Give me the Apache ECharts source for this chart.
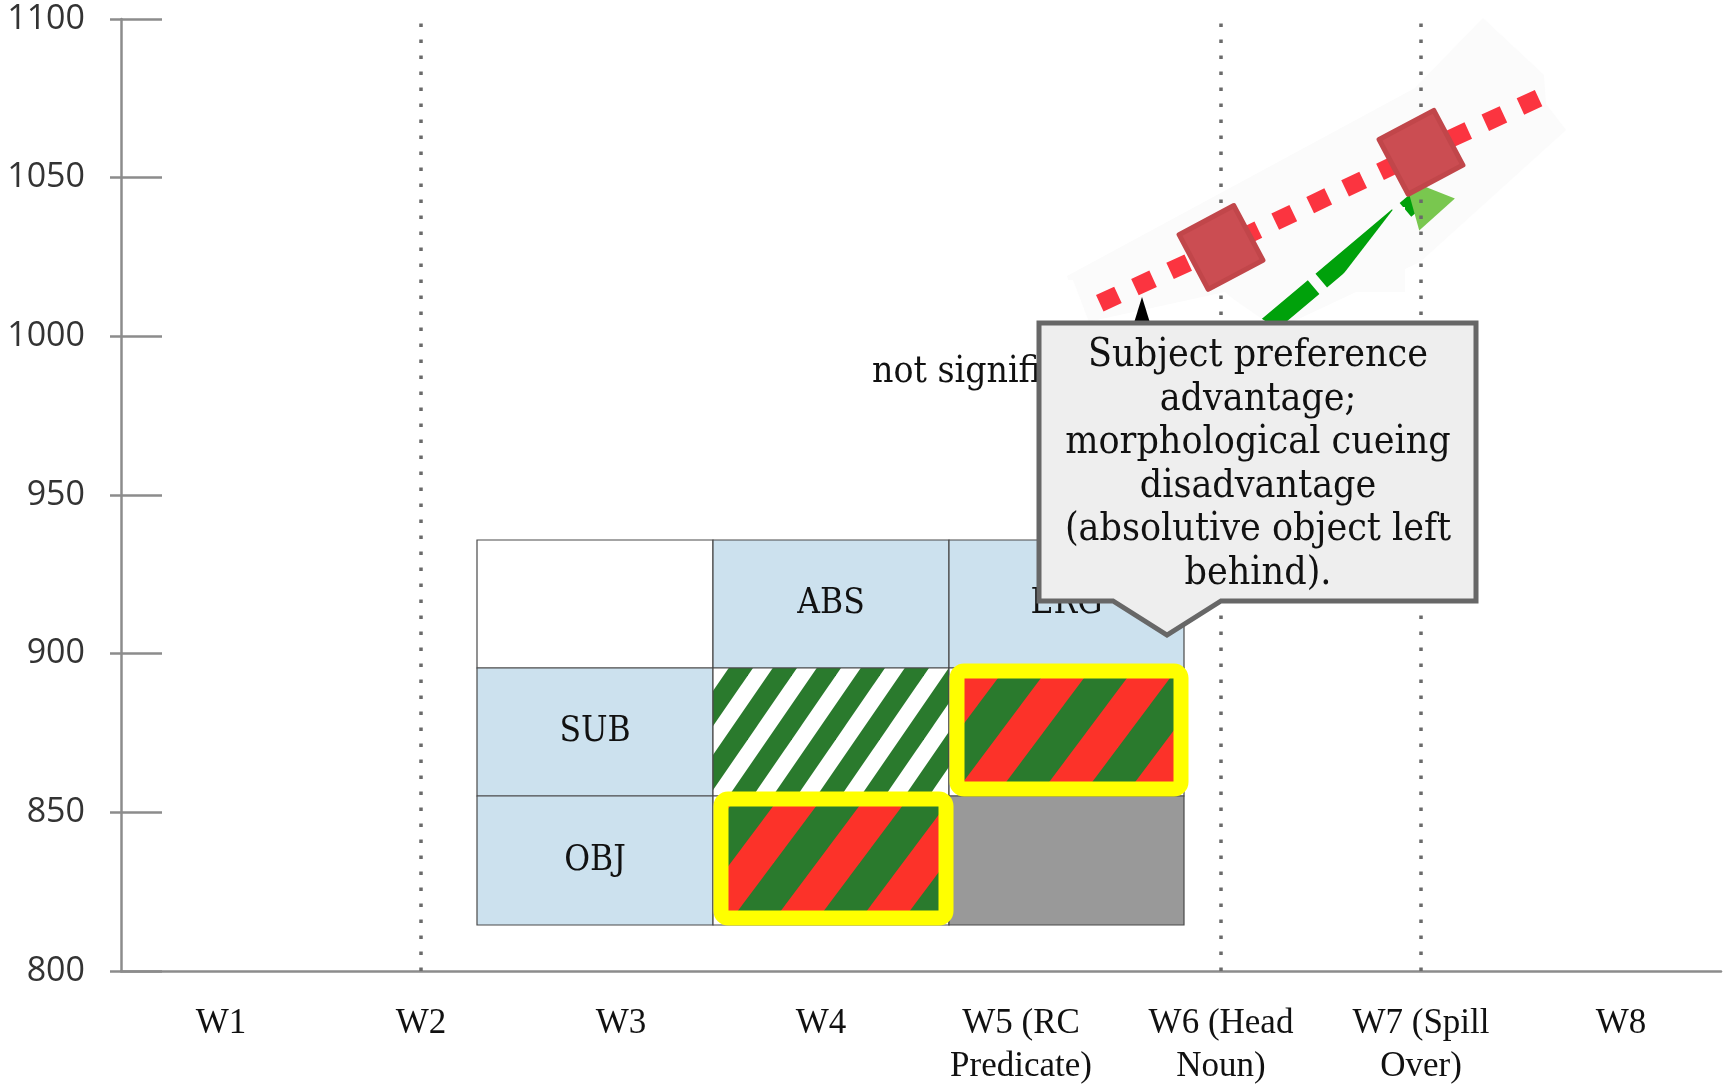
<!DOCTYPE html>
<html>
<head>
<meta charset="utf-8">
<script src="https://cdn.jsdelivr.net/npm/echarts@6/dist/echarts.min.js"></script>
<style>
  html, body { margin: 0; padding: 0; background: #ffffff; }
  #chart { width: 1730px; height: 1084px; }
</style>
</head>
<body>
<div id="chart"></div>
<script>
// ---- data ----
const categories = ['W1', 'W2', 'W3', 'W4', 'W5 (RC\nPredicate)', 'W6 (Head\nNoun)', 'W7 (Spill\nOver)', 'W8'];
const redValues = [null, null, null, null, 999, 1028, 1058, 1087];
const greenValues = [null, null, null, null, null, 991, 1044, null];
const regionMarks = ['W2', 'W6 (Head\nNoun)', 'W7 (Spill\nOver)'];
const yMin = 800, yMax = 1100, yStep = 50;
const tableHeader = ['', 'ABS', 'ERG'];
const tableRowLabels = ['SUB', 'OBJ'];
const calloutLines = ['Subject preference', 'advantage;', 'morphological cueing', 'disadvantage', '(absolutive object left', 'behind).'];
const noteText = 'not significant';

// ---- layout ----
const GRID = { left: 121, right: 9, top: 19, bottom: 113, outerBoundsMode: 'none', containLabel: false };
const TABLE_X = [477, 713, 949, 1184];
const TABLE_Y = [540, 668, 796, 925];
const SERIF = '"DejaVu Serif Condensed", "DejaVu Serif", serif';

// diagonal stripe tile used as a repeating fill
function stripeTile(c1, c2, period, height, ratio) {
  const cv = document.createElement('canvas');
  cv.width = period; cv.height = height;
  const ctx = cv.getContext('2d');
  ctx.fillStyle = c2; ctx.fillRect(0, 0, period, height);
  ctx.fillStyle = c1;
  for (let k = -1; k <= 2; k++) {
    const a = k * period, b = a + ratio * period;
    ctx.beginPath();
    ctx.moveTo(a, 0); ctx.lineTo(b, 0);
    ctx.lineTo(b - period, height); ctx.lineTo(a - period, height);
    ctx.closePath(); ctx.fill();
  }
  return { image: cv, repeat: 'repeat' };
}
const redGreen = stripeTile('#fc3229', '#2a7a2d', 86, 115, 0.5);
const greenWhite = stripeTile('#2a7a2d', '#ffffff', 44, 64, 0.55);

// ---- table overlay ----
const cellKinds = [
  ['blank', 'head', 'head'],
  ['head', 'greenWhite', 'boxed'],
  ['head', 'boxed', 'grey']
];
const tableEls = [];
for (let r = 0; r < 3; r++) {
  for (let c = 0; c < 3; c++) {
    const x0 = TABLE_X[c], x1 = TABLE_X[c + 1], y0 = TABLE_Y[r], y1 = TABLE_Y[r + 1];
    const kind = cellKinds[r][c];
    let fill = '#ffffff';
    if (kind === 'head') fill = '#cce1ee';
    if (kind === 'greenWhite') fill = greenWhite;
    if (kind === 'grey') fill = '#999999';
    tableEls.push({
      type: 'rect', z: 3, silent: true,
      shape: { x: x0, y: y0, width: x1 - x0, height: y1 - y0 },
      style: { fill: fill, stroke: '#4a4a4a', lineWidth: 1.2 }
    });
    let label = '';
    if (r === 0) label = tableHeader[c];
    else if (c === 0) label = tableRowLabels[r - 1];
    if (label) {
      tableEls.push({
        type: 'text', z: 4, silent: true,
        style: {
          text: label, x: (x0 + x1) / 2, y: (y0 + y1) / 2,
          align: 'center', verticalAlign: 'middle',
          font: '35px ' + SERIF, fill: '#111111'
        }
      });
    }
  }
}
for (let r = 0; r < 3; r++) {
  for (let c = 0; c < 3; c++) {
    if (cellKinds[r][c] !== 'boxed') continue;
    const x0 = TABLE_X[c], x1 = TABLE_X[c + 1], y0 = TABLE_Y[r], y1 = TABLE_Y[r + 1];
    tableEls.push({
      type: 'rect', z: 4, silent: true,
      shape: { x: x0 + 8, y: y0 + 3, width: x1 - x0 - 11, height: y1 - y0 - 10, r: 7 },
      style: { fill: redGreen, stroke: '#ffff00', lineWidth: 15, lineJoin: 'round' }
    });
  }
}

// ---- pasted line band, masks, note and callout ----
const band = {
  type: 'polygon', z: 3, silent: true,
  shape: { points: [[1067, 276], [1415, 88], [1483, 18], [1568, 97], [1566, 130], [1420, 262],
                    [1290, 323], [1262, 323], [1225, 292], [1083, 323]] },
  style: { fill: '#fbfbfb' }
};
const masks = [
  { type: 'polygon', z: 6, silent: true,
    shape: { points: [[968, 280], [1073, 280], [1092, 330], [1092, 392], [968, 392]] },
    style: { fill: '#ffffff' } },
  { type: 'polygon', z: 6, silent: true,
    shape: { points: [[1483, 0], [1483, 18], [1544, 75], [1546, 104], [1566, 130], [1700, 130], [1700, 0]] },
    style: { fill: '#ffffff' } },
  { type: 'polygon', z: 6, silent: true,
    shape: { points: [[1229, 296], [1268, 323], [1229, 323]] },
    style: { fill: '#ffffff' } },
  { type: 'polygon', z: 6, silent: true,
    shape: { points: [[1338, 281], [1395, 207], [1405, 207], [1405, 292], [1338, 292]] },
    style: { fill: '#fbfbfb' } }
];
const note = {
  type: 'text', z: 8, silent: true,
  style: { text: noteText, x: 872, y: 372, align: 'left', verticalAlign: 'middle',
           font: '37px ' + SERIF, fill: '#111111' }
};
const arrowHead = {
  type: 'polygon', z: 9, silent: true,
  shape: { points: [[1142, 297], [1133, 326], [1151, 326]] },
  style: { fill: '#000000' }
};
const callout = {
  type: 'polygon', z: 10, silent: true,
  shape: { points: [[1039, 323], [1476, 323], [1476, 601], [1221, 601], [1167, 635], [1113, 601], [1039, 601]] },
  style: { fill: '#eeeeee', stroke: '#676767', lineWidth: 5, lineJoin: 'miter' }
};
const calloutText = {
  type: 'text', z: 11, silent: true,
  style: { text: calloutLines.join('\n'), x: 1258, y: 465, align: 'center', verticalAlign: 'middle',
           lineHeight: 43.5, font: '39px ' + SERIF, fill: '#111111' }
};

// ---- chart ----
const chart = echarts.init(document.getElementById('chart'));
const axisGrey = '#8c8c8c';
chart.setOption({
  animation: false,
  backgroundColor: '#ffffff',
  grid: GRID,
  xAxis: {
    type: 'category', data: categories, boundaryGap: true,
    axisLine: { lineStyle: { color: axisGrey, width: 2.5 } },
    axisTick: { length: 7, lineStyle: { color: axisGrey, width: 2 } },
    axisLabel: { margin: 31, color: '#111111', fontFamily: '"Liberation Serif", serif', fontSize: 35, lineHeight: 43, interval: 0 },
    splitLine: { show: false }
  },
  yAxis: [
    {
      type: 'value', min: yMin, max: yMax, interval: yStep, position: 'left',
      axisLine: { show: true, lineStyle: { color: axisGrey, width: 2.5 } },
      axisTick: { show: true, inside: true, length: 41, lineStyle: { color: axisGrey, width: 2.5 } },
      axisLabel: { margin: 36, color: '#333333', fontFamily: '"Open Sans", sans-serif', fontSize: 34,
                   formatter: v => String(v) },
      splitLine: { show: false }
    },
    {
      type: 'value', min: yMin, max: yMax, interval: yStep, position: 'left',
      axisLine: { show: false },
      axisTick: { show: true, inside: false, length: 11, lineStyle: { color: axisGrey, width: 2.5 } },
      axisLabel: { show: false },
      splitLine: { show: false }
    }
  ],
  series: [
    {
      type: 'line', name: 'regions', z: 1, silent: true, symbol: 'none',
      data: categories.map(() => null),
      markLine: {
        silent: true, symbol: ['none', 'none'], label: { show: false }, animation: false,
        lineStyle: { color: '#6a6a6a', width: 3.5, type: [3.5, 12.5] },
        data: regionMarks.map(c => ({ xAxis: c }))
      }
    },
    {
      type: 'line', name: 'green', z: 4, data: greenValues,
      lineStyle: { color: '#00a10b', width: 18, type: [100, 10], dashOffset: -21 },
      symbol: 'triangle', symbolSize: 48, symbolRotate: 42,
      itemStyle: { color: '#79c74f' }
    },
    {
      type: 'line', name: 'red', z: 5, data: redValues,
      lineStyle: { color: '#fb3440', width: 18, type: [20, 18.7], dashOffset: 29.4 },
      symbol: 'rect', symbolSize: 62, symbolRotate: 28,
      itemStyle: { color: '#cb4d52', borderColor: '#c1464a', borderWidth: 5, borderJoin: 'round' }
    }
  ],
  graphic: { elements: [band].concat(tableEls, masks, [note, arrowHead, callout, calloutText]) }
});
</script>
</body>
</html>
